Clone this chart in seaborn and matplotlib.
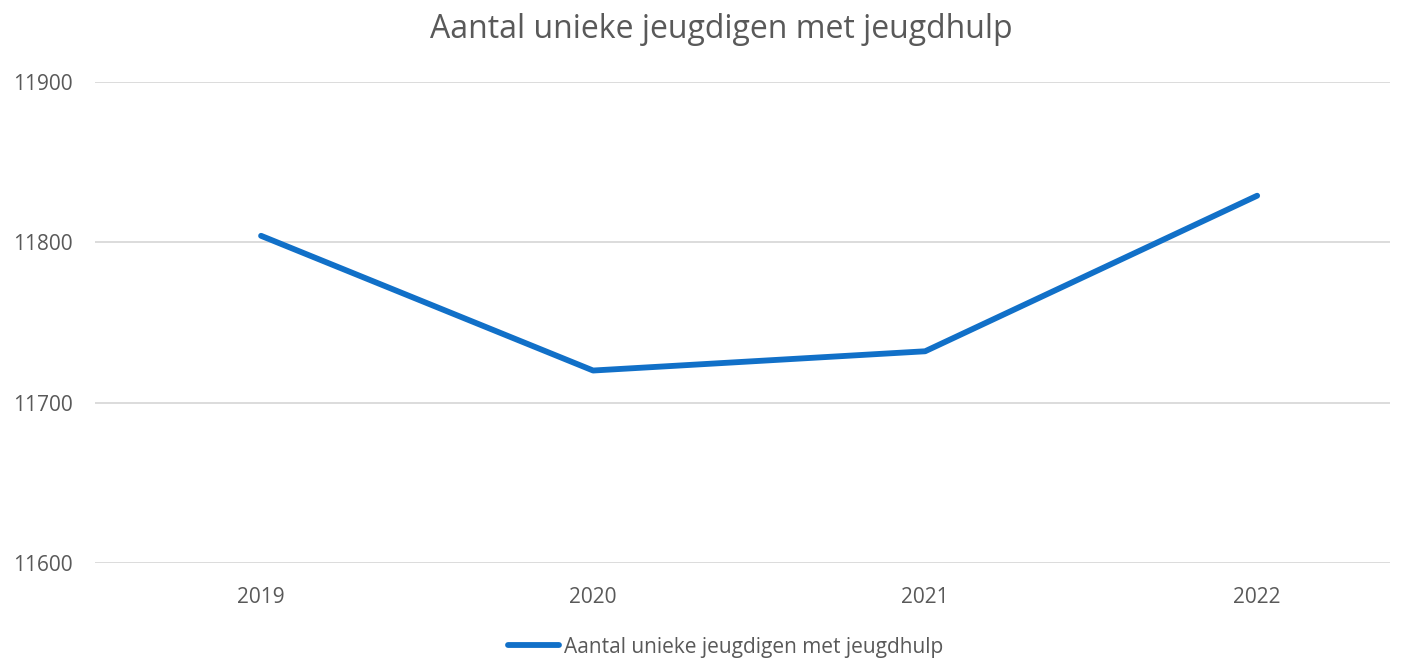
import pandas as pd
import matplotlib.pyplot as plt
import seaborn as sns

jaren = ['2019', '2020', '2021', '2022']
aantal = [11804, 11720, 11732, 11829]
reeks_naam = 'Aantal unieke jeugdigen met jeugdhulp'
y_ticks = [11600, 11700, 11800, 11900]

df = pd.DataFrame({'Jaar': jaren, 'Aantal': aantal})
df['Reeks'] = reeks_naam

sns.set_style('white')
plt.rcParams['font.family'] = ['Open Sans', 'DejaVu Sans']
tekst_kleur = '#595959'

fig = plt.figure(figsize=(14.04, 6.6), dpi=100)
ax = fig.add_axes([0.0677, 0.147, 0.9223, 0.729])

sns.lineplot(data=df, x='Jaar', y='Aantal', hue='Reeks', palette=['#1170C8'],
             linewidth=4.2, ax=ax, sort=False, solid_capstyle='round')

ax.set_ylim(11600, 11900)
ax.set_yticks(y_ticks)
ax.set_xlim(-0.5, 3.4)
ax.grid(axis='y', color='#D9D9D9', linewidth=1.3)
ax.set_axisbelow(True)
for s in ax.spines.values():
    s.set_visible(False)
ax.tick_params(axis='both', length=0, labelsize=15, labelcolor=tekst_kleur)
ax.tick_params(axis='x', pad=17)
ax.tick_params(axis='y', pad=16)
ax.set_xlabel('')
ax.set_ylabel('')

fig.text(0.514, 0.955, reeks_naam, fontsize=23, color=tekst_kleur, ha='center', va='center')

leg = ax.legend(loc='center', bbox_to_anchor=(0.487, -0.175), frameon=False,
                fontsize=15, handlelength=2.45, handletextpad=0.25, labelcolor=tekst_kleur)

plt.savefig('out.png', dpi=100)
plt.close()
